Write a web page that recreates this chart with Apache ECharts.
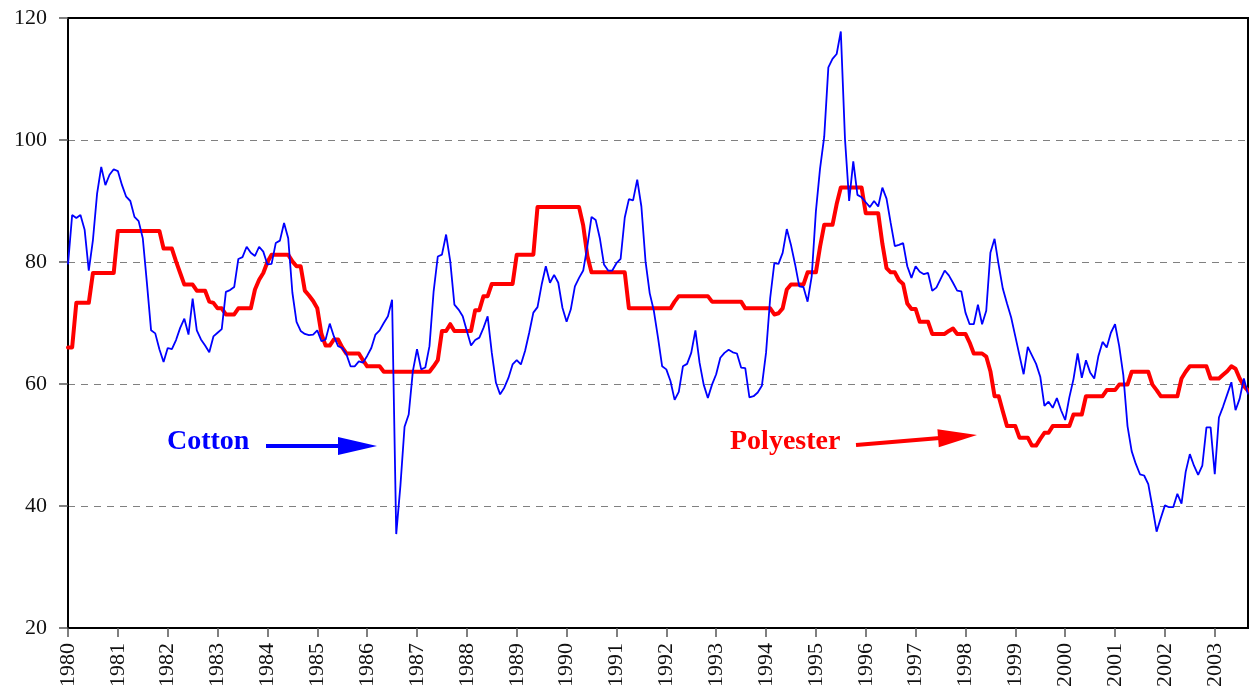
<!DOCTYPE html>
<html>
<head>
    <meta charset="utf-8">
    <title>Cotton and Polyester</title>
    <script src="https://cdn.jsdelivr.net/npm/echarts@6/dist/echarts.min.js"></script>
    <style>
        html, body { margin: 0; padding: 0; background: #fff; }
        #chart { width: 1249px; height: 692px; }
    </style>
</head>
<body>
<div id="chart"></div>
<script type="text/javascript">
    // monthly series, 1980M01 .. 2003M09
    var years = [1980, 1981, 1982, 1983, 1984, 1985, 1986, 1987, 1988, 1989, 1990, 1991,
                 1992, 1993, 1994, 1995, 1996, 1997, 1998, 1999, 2000, 2001, 2002, 2003];
    var lastMonth = 9;

    var cotton = [
        79.6, 87.7, 87.2, 87.7, 85.3, 78.6, 83.6, 91.2, 95.6, 92.6, 94.3, 95.2,
        94.9, 92.6, 90.7, 90.0, 87.4, 86.7, 83.9, 76.5, 68.8, 68.3, 65.7, 63.6,
        65.9, 65.7, 67.2, 69.2, 70.7, 68.1, 74.0, 68.8, 67.3, 66.3, 65.2, 67.8,
        68.4, 69.0, 75.1, 75.4, 75.9, 80.5, 80.8, 82.5, 81.5, 81.0, 82.5, 81.7,
        79.6, 79.7, 83.1, 83.5, 86.4, 83.9, 75.0, 70.2, 68.7, 68.2, 68.0, 68.1,
        68.8, 67.0, 67.3, 69.9, 67.8, 66.2, 65.9, 64.9, 62.9, 62.9, 63.7, 63.5,
        64.6, 65.9, 68.1, 68.8, 70.0, 71.1, 73.8, 35.4, 43.3, 53.0, 55.0, 62.1,
        65.7, 62.4, 62.7, 66.2, 75.2, 80.9, 81.2, 84.5, 80.1, 73.0, 72.2, 71.1,
        68.7, 66.3, 67.2, 67.6, 69.2, 71.1, 65.1, 60.2, 58.3, 59.4, 61.0, 63.2,
        63.9, 63.2, 65.4, 68.4, 71.7, 72.6, 76.3, 79.3, 76.6, 77.9, 76.6, 72.5,
        70.2, 72.2, 76.0, 77.4, 78.6, 82.6, 87.4, 86.9, 83.9, 79.6, 78.6, 78.6,
        79.8, 80.5, 87.3, 90.3, 90.1, 93.5, 89.1, 80.1, 74.9, 72.0, 67.6, 62.9,
        62.4, 60.5, 57.4, 58.7, 62.9, 63.3, 65.1, 68.8, 63.5, 59.9, 57.7, 59.9,
        61.6, 64.3, 65.1, 65.6, 65.2, 65.0, 62.7, 62.6, 57.8, 58.0, 58.6, 59.7,
        65.1, 74.1, 79.8, 79.7, 81.5, 85.4, 82.8, 79.6, 76.0, 75.9, 73.5, 77.7,
        88.3, 95.3, 100.5, 111.9, 113.3, 114.1, 117.8, 100.2, 90.0, 96.5, 91.0, 90.6,
        89.8, 89.0, 90.0, 89.1, 92.2, 90.4, 86.4, 82.6, 82.8, 83.1, 79.3, 77.4,
        79.3, 78.4, 78.0, 78.2, 75.3, 75.8, 77.2, 78.6, 77.8, 76.6, 75.3, 75.2,
        71.7, 69.8, 69.8, 73.0, 69.8, 72.0, 81.5, 83.8, 79.5, 75.6, 73.2, 70.9,
        67.8, 64.7, 61.6, 66.1, 64.7, 63.3, 61.2, 56.4, 57.1, 56.1, 57.7, 55.7,
        54.1, 57.8, 60.8, 65.0, 61.0, 63.9, 61.9, 60.9, 64.6, 66.9, 66.0, 68.4,
        69.8, 66.2, 61.4, 53.1, 49.0, 46.9, 45.2, 45.0, 43.6, 39.8, 35.8, 38.0,
        40.1, 39.8, 39.8, 42.0, 40.4, 45.6, 48.5, 46.6, 45.1, 46.6, 52.9, 52.9,
        45.2, 54.5, 56.3, 58.3, 60.3, 55.7, 57.6, 60.9, 58.3
    ];

    var polyester = [
        66.0, 66.0, 73.3, 73.3, 73.3, 73.3, 78.2, 78.2, 78.2, 78.2, 78.2, 78.2,
        85.1, 85.1, 85.1, 85.1, 85.1, 85.1, 85.1, 85.1, 85.1, 85.1, 85.1, 82.2,
        82.2, 82.2, 80.1, 78.2, 76.3, 76.3, 76.3, 75.3, 75.3, 75.3, 73.5, 73.3,
        72.4, 72.4, 71.4, 71.4, 71.4, 72.4, 72.4, 72.4, 72.4, 75.5, 77.1, 78.2,
        80.0, 81.2, 81.2, 81.2, 81.2, 81.2, 80.1, 79.3, 79.3, 75.3, 74.5, 73.6,
        72.4, 68.2, 66.3, 66.3, 67.3, 67.3, 66.0, 65.0, 65.0, 65.0, 65.0, 63.9,
        62.9, 62.9, 62.9, 62.9, 62.0, 62.0, 62.0, 62.0, 62.0, 62.0, 62.0, 62.0,
        62.0, 62.0, 62.0, 62.0, 62.9, 63.9, 68.7, 68.7, 69.8, 68.7, 68.7, 68.7,
        68.7, 68.7, 72.1, 72.1, 74.4, 74.4, 76.4, 76.4, 76.4, 76.4, 76.4, 76.4,
        81.2, 81.2, 81.2, 81.2, 81.2, 89.0, 89.0, 89.0, 89.0, 89.0, 89.0, 89.0,
        89.0, 89.0, 89.0, 89.0, 86.0, 81.0, 78.3, 78.3, 78.3, 78.3, 78.3, 78.3,
        78.3, 78.3, 78.3, 72.4, 72.4, 72.4, 72.4, 72.4, 72.4, 72.4, 72.4, 72.4,
        72.4, 72.4, 73.5, 74.4, 74.4, 74.4, 74.4, 74.4, 74.4, 74.4, 74.4, 73.5,
        73.5, 73.5, 73.5, 73.5, 73.5, 73.5, 73.5, 72.4, 72.4, 72.4, 72.4, 72.4,
        72.4, 72.4, 71.4, 71.6, 72.4, 75.5, 76.3, 76.3, 76.3, 76.3, 78.3, 78.3,
        78.3, 82.5, 86.1, 86.1, 86.1, 89.5, 92.2, 92.2, 92.2, 92.2, 92.2, 92.2,
        88.0, 88.0, 88.0, 88.0, 83.0, 79.0, 78.3, 78.3, 77.0, 76.4, 73.2, 72.3,
        72.3, 70.2, 70.2, 70.2, 68.2, 68.2, 68.2, 68.2, 68.7, 69.1, 68.2, 68.2,
        68.2, 66.8, 65.0, 65.0, 65.0, 64.5, 62.1, 58.0, 58.0, 55.5, 53.1, 53.1,
        53.1, 51.2, 51.2, 51.2, 49.9, 49.9, 51.0, 52.0, 52.0, 53.1, 53.1, 53.1,
        53.1, 53.1, 55.0, 55.0, 55.0, 58.0, 58.0, 58.0, 58.0, 58.0, 59.0, 59.0,
        59.0, 59.9, 59.9, 59.9, 62.0, 62.0, 62.0, 62.0, 62.0, 59.9, 59.0, 58.0,
        58.0, 58.0, 58.0, 58.0, 60.9, 62.0, 62.9, 62.9, 62.9, 62.9, 62.9, 60.9,
        60.9, 60.9, 61.5, 62.1, 62.9, 62.5, 60.9, 59.7, 58.9
    ];

    var months = [];
    years.forEach(function (y) {
        var n = (y === years[years.length - 1]) ? lastMonth : 12;
        for (var m = 1; m <= n; m++) {
            months.push(y + 'M' + (m < 10 ? '0' + m : m));
        }
    });

    var serif = 'Liberation Serif, DejaVu Serif, serif';

    var myChart = echarts.init(document.getElementById('chart'));
    myChart.setOption({
        animation: false,
        backgroundColor: '#fff',
        grid: {
            left: 68, top: 18, right: 1, bottom: 64,
            show: true, borderColor: '#000', borderWidth: 2
        },
        xAxis: {
            type: 'category',
            data: months,
            boundaryGap: false,
            axisLine: { lineStyle: { color: '#000', width: 2 } },
            axisTick: { interval: 11, length: 9, lineStyle: { color: '#555', width: 1.5 } },
            axisLabel: {
                interval: 11,
                rotate: 90,
                margin: 15,
                color: '#111',
                fontFamily: serif,
                fontSize: 22,
                formatter: function (v) { return v.slice(0, 4); }
            },
            splitLine: { show: false }
        },
        yAxis: {
            type: 'value',
            min: 20, max: 120, interval: 20,
            axisLine: { show: true, lineStyle: { color: '#000', width: 2 } },
            axisTick: { show: true, length: 9, lineStyle: { color: '#555', width: 1.5 } },
            axisLabel: { margin: 21, color: '#111', fontFamily: serif, fontSize: 22 },
            splitLine: {
                show: true, showMinLine: false, showMaxLine: false,
                lineStyle: { color: '#808080', width: 1.2, type: [7, 6] }
            }
        },
        series: [
            {
                name: 'Polyester',
                type: 'line',
                data: polyester,
                showSymbol: false,
                symbol: 'none',
                lineStyle: { color: '#ff0000', width: 4, join: 'round', cap: 'round' },
                z: 2
            },
            {
                name: 'Cotton',
                type: 'line',
                data: cotton,
                showSymbol: false,
                symbol: 'none',
                lineStyle: { color: '#0000ff', width: 1.8 },
                z: 3
            }
        ],
        graphic: [
            {
                type: 'text', left: 167, top: 444 - 16,
                style: { text: 'Cotton', fill: '#0000ff', font: 'bold 28px ' + serif }
            },
            {
                type: 'line',
                shape: { x1: 266, y1: 446, x2: 340, y2: 446 },
                style: { stroke: '#0000ff', lineWidth: 4 }
            },
            {
                type: 'polygon',
                shape: { points: [[338, 437], [377, 446], [338, 455]] },
                style: { fill: '#0000ff' }
            },
            {
                type: 'text', left: 730, top: 444 - 16,
                style: { text: 'Polyester', fill: '#ff0000', font: 'bold 28px ' + serif }
            },
            {
                type: 'line',
                shape: { x1: 856, y1: 445, x2: 940, y2: 438 },
                style: { stroke: '#ff0000', lineWidth: 4 }
            },
            {
                type: 'polygon',
                shape: { points: [[937.4, 429.2], [977, 435], [938.8, 447.2]] },
                style: { fill: '#ff0000' }
            }
        ]
    });
</script>
</body>
</html>
